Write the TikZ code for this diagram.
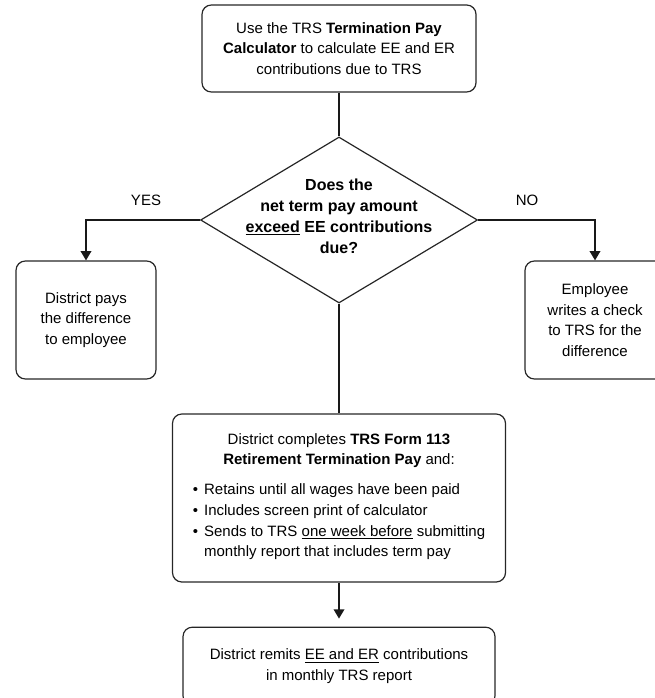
\documentclass[tikz,border=0pt]{standalone}
\usepackage{fontspec}
\setmainfont{Liberation Sans}
\usetikzlibrary{positioning,shapes.geometric,arrows.meta}

\begin{document}
\begin{tikzpicture}[x=0.75pt, y=-0.75pt] %Termination pay
	\tikzstyle{stepbox} = [rectangle, draw=black!85, line width=0.9pt, rounded corners=7pt, inner sep=0pt, align=center, font=\fontsize{11.25}{15.5}\selectfont]
	\tikzstyle{decision} = [diamond, draw=black!85, line width=0.9pt, inner sep=0pt, minimum width=207.75pt, minimum height=124.5pt]
	\tikzstyle{asktext} = [inner sep=0pt, align=center, font=\bfseries\fontsize{12}{15.75}\selectfont]
	\tikzstyle{answer} = [inner sep=0pt, font=\fontsize{11.25}{15.5}\selectfont]
	\tikzstyle{link} = [draw=black!90, line width=1.1pt]
	\tikzstyle{tip} = [-{Triangle[width=8pt,length=7pt]}]
	\useasboundingbox (0,0) rectangle (654,698);
	\node[stepbox, minimum width=205.5pt, minimum height=65.25pt] (calc) at (339,48.5) {Use the TRS \textbf{Termination Pay}\\ \textbf{Calculator} to calculate EE and ER\\ contributions due to TRS};
	\node[decision] (q) at (339,220) {};
	\node[asktext] (qtext) at (339,216) {Does the\\ net term pay amount\\ \underline{exceed} EE contributions\\ due?};
	\node[stepbox, minimum width=105pt, minimum height=88.5pt] (pays) at (86,320) {District pays\\ the difference\\ to employee};
	\node[stepbox, minimum width=105pt, minimum height=88.5pt] (check) at (595,320) {Employee\\ writes a check\\ to TRS for the\\ difference};
	\node[stepbox, minimum width=249.75pt, minimum height=126pt] (form) at (339,498) {District completes \textbf{TRS Form 113}\\ \textbf{Retirement Termination Pay} and:\\[7pt]
		\begin{tabular}[t]{@{}l@{\hspace{4.5pt}}l@{}}
			\textbullet & Retains until all wages have been paid\\
			\textbullet & Includes screen print of calculator\\
			\textbullet & Sends to TRS \underline{one week before} submitting\\
			 & monthly report that includes term pay
		\end{tabular}};
	\node[stepbox, minimum width=234pt, minimum height=58.5pt, below=33pt of form] (remit) {District remits \underline{EE and ER} contributions\\ in monthly TRS report};
	\node[answer] (yes) at (146,200) {YES};
	\node[answer] (no) at (527,200) {NO};
	\draw[link] (calc) -- (q);
	\draw[link] (q) -- (form);
	\draw[link, tip] (q.west) -| (pays.north);
	\draw[link, tip] (q.east) -| (check.north);
	\draw[link, tip, shorten >=6pt] (form) -- (remit);
\end{tikzpicture}
\end{document}
